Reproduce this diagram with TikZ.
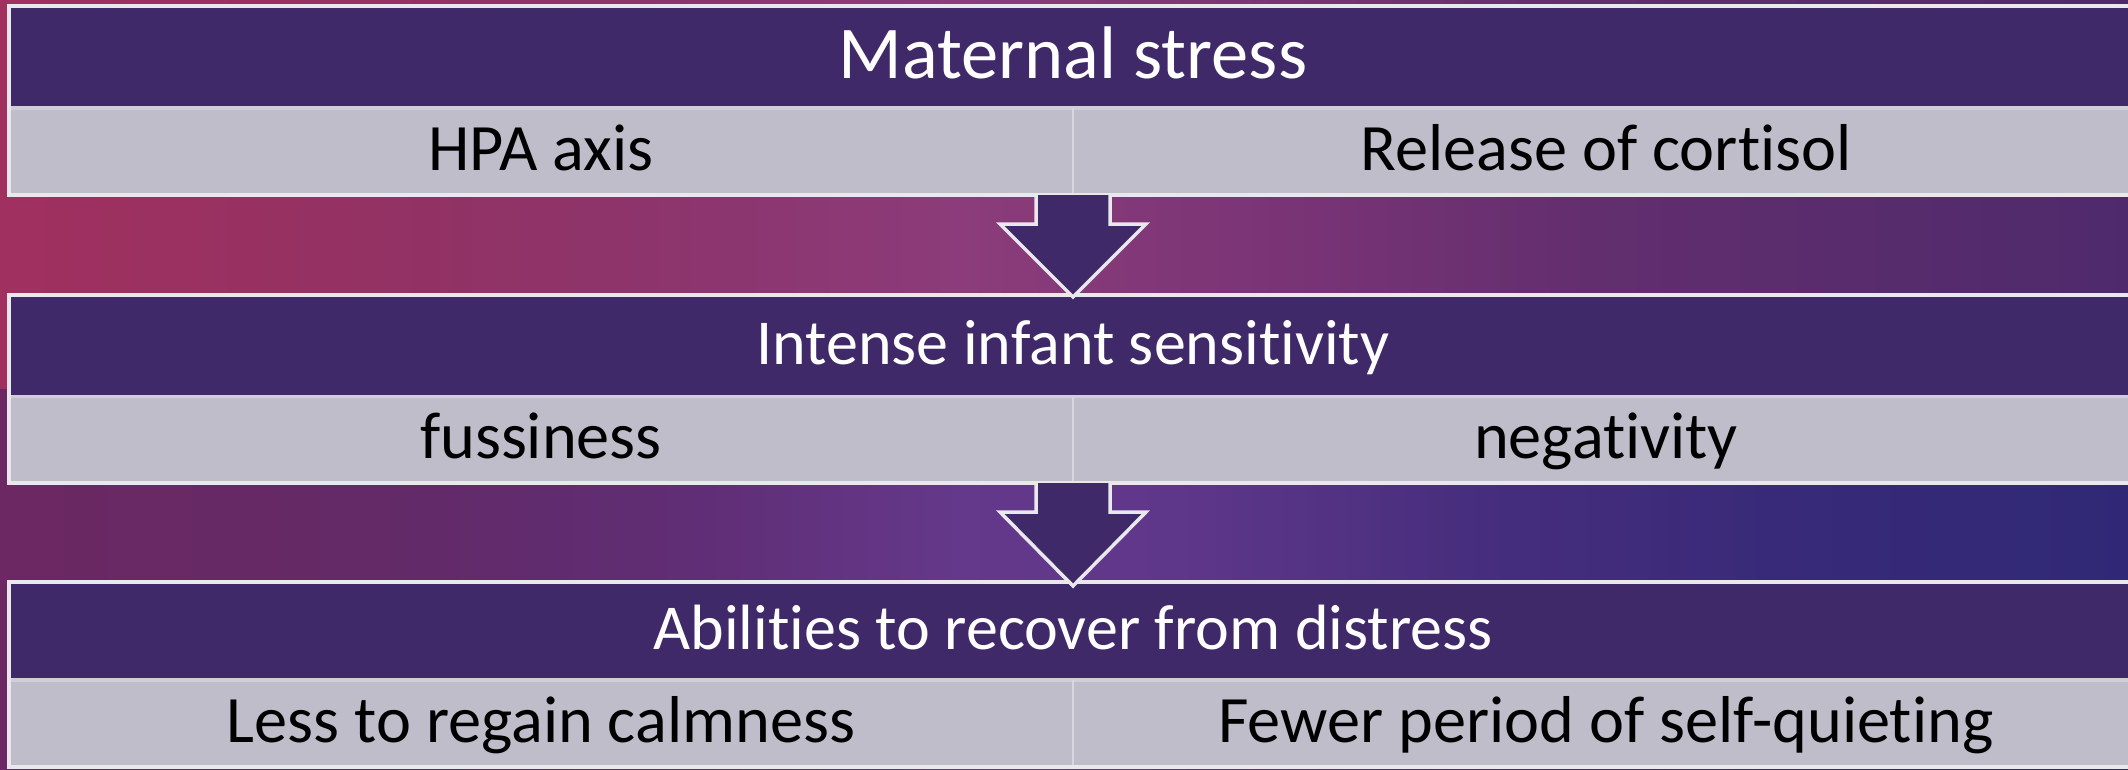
\documentclass[tikz,border=0pt]{standalone}
\usepackage{fontspec}
\setmainfont{Carlito}[Ligatures={NoCommon,NoContextual,NoRequired}]
\definecolor{hdrpurple}{RGB}{64,41,105}
\definecolor{rowgray}{RGB}{191,189,202}
\definecolor{edgewhite}{RGB}{232,232,237}
\definecolor{midline}{RGB}{208,207,216}
\definecolor{divline}{RGB}{216,215,223}
% gap 1 colours
\definecolor{ga0}{RGB}{160,48,95}
\definecolor{ga1}{RGB}{146,50,100}
\definecolor{ga2}{RGB}{140,53,110}
\definecolor{ga3}{RGB}{140,60,122}
\definecolor{ga4}{RGB}{122,52,118}
\definecolor{ga5}{RGB}{98,46,110}
\definecolor{ga6}{RGB}{78,42,108}
% gap 2 colours
\definecolor{gb0}{RGB}{108,40,98}
\definecolor{gb1}{RGB}{98,42,104}
\definecolor{gb2}{RGB}{96,46,118}
\definecolor{gb3}{RGB}{100,56,138}
\definecolor{gb4}{RGB}{95,55,138}
\definecolor{gb5}{RGB}{70,45,125}
\definecolor{gb6}{RGB}{55,42,120}
\definecolor{gb7}{RGB}{48,40,118}
\pgfdeclarehorizontalshading{gapone}{100bp}{color(0bp)=(ga0); color(25bp)=(ga0); color(35bp)=(ga1); color(41.5bp)=(ga2); color(47.5bp)=(ga3); color(55bp)=(ga4); color(62.5bp)=(ga5); color(75bp)=(ga6); color(100bp)=(ga6)}
\pgfdeclarehorizontalshading{gaptwo}{100bp}{color(0bp)=(gb0); color(25bp)=(gb0); color(35bp)=(gb1); color(41.5bp)=(gb2); color(47.5bp)=(gb3); color(52.5bp)=(gb4); color(60bp)=(gb5); color(67.5bp)=(gb6); color(75bp)=(gb7); color(100bp)=(gb7)}
\tikzset{
  headfill/.style={fill=hdrpurple},
  rowfill/.style={fill=rowgray},
  tableedge/.style={draw=edgewhite, line width=3.5pt},
  headline/.style={draw=midline, line width=3.5pt},
  colline/.style={draw=divline, line width=2.5pt},
  bigtitle/.style={anchor=base, text=white, inner sep=0pt, font=\fontsize{74.5}{80}\selectfont},
  headtext/.style={anchor=base, text=white, inner sep=0pt, font=\fontsize{64}{70}\selectfont},
  celltext/.style={anchor=base, text=black, inner sep=0pt, font=\fontsize{66.3}{72}\selectfont},
  blockarrow/.style={fill=hdrpurple, draw=edgewhite, line width=3.5pt, line join=miter},
}
\begin{document}
\begin{tikzpicture}[x=1pt,y=-1pt]
\useasboundingbox (0,0) rectangle (2128,769);
% background
\shade[shading=gapone] (0,0) rectangle (2128,390);
\shade[shading=gaptwo] (0,389) rectangle (2128,769);

% table 1
\path[headfill] (9,6) rectangle (2142,108);
\path[rowfill] (9,108) rectangle (2142,195);
\draw[headline] (9,108) -- (2142,108);
\draw[colline] (1073,108) -- (1073,195);
\draw[tableedge] (9,6) rectangle (2142,195);
% table 2
\path[headfill] (9,295) rectangle (2142,396.5);
\path[rowfill] (9,396.5) rectangle (2142,483);
\draw[headline] (9,396.5) -- (2142,396.5);
\draw[colline] (1073,396.5) -- (1073,483);
\draw[tableedge] (9,295) rectangle (2142,483);
% table 3
\path[headfill] (9,582) rectangle (2142,680);
\path[rowfill] (9,680) rectangle (2142,767);
\draw[headline] (9,680) -- (2142,680);
\draw[colline] (1073,680) -- (1073,767);
\draw[tableedge] (9,582) rectangle (2142,767);

% texts
\node[bigtitle] (ms) at (1073,78.5) {Maternal stress};
\node[celltext] (hpa) at (541,170.3) {HPA axis};
\node[celltext] (rel) at (1606,170.3) {Release of cortisol};
\node[headtext] (iis) at (1073,364.1) {Intense infant sensitivity};
\node[celltext] (fus) at (541,458.3) {fussiness};
\node[celltext] (neg) at (1606,458.3) {negativity};
\node[headtext] (abl) at (1073,649.1) {Abilities to recover from distress};
\node[celltext] (les) at (541,742.8) {Less to regain calmness};
\node[celltext] (few) at (1606,742.8) {Fewer period of self-quieting};

% block arrows
\coordinate (a1top) at (1073,195);
\coordinate (a1tip) at (1073,297);
\coordinate (a2top) at (1073,483);
\coordinate (a2tip) at (1073,586);
\filldraw[blockarrow] ([xshift=-37pt]a1top) -- ([xshift=-37pt,yshift=-29pt]a1top) -- ([xshift=-73pt,yshift=-29pt]a1top) -- (a1tip) -- ([xshift=73pt,yshift=-29pt]a1top) -- ([xshift=37pt,yshift=-29pt]a1top) -- ([xshift=37pt]a1top);
\filldraw[blockarrow] ([xshift=-37pt]a2top) -- ([xshift=-37pt,yshift=-29pt]a2top) -- ([xshift=-73pt,yshift=-29pt]a2top) -- (a2tip) -- ([xshift=73pt,yshift=-29pt]a2top) -- ([xshift=37pt,yshift=-29pt]a2top) -- ([xshift=37pt]a2top);
\end{tikzpicture}
\end{document}
